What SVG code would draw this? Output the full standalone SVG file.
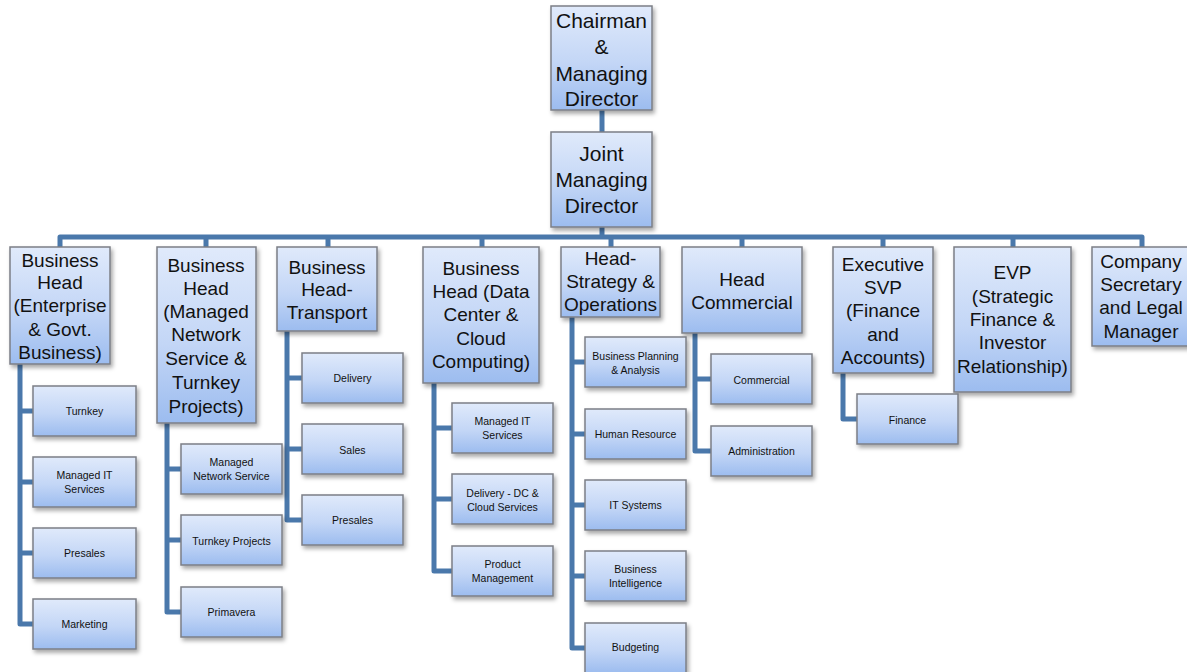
<svg xmlns="http://www.w3.org/2000/svg" width="1187" height="672" viewBox="0 0 1187 672">
<defs>
<linearGradient id="g" x1="0" y1="0" x2="0" y2="1">
<stop offset="0" stop-color="#e0eafb"/>
<stop offset="0.55" stop-color="#c3d6f6"/>
<stop offset="1" stop-color="#9cbcef"/>
</linearGradient>
<filter id="sh" x="-10%" y="-10%" width="130%" height="130%">
<feDropShadow dx="2" dy="3" stdDeviation="2" flood-color="#000" flood-opacity="0.35"/>
</filter>
</defs>
<style>
rect.b{fill:url(#g);stroke:#7c7f86;stroke-width:1.5;filter:url(#sh)}
text{font-family:"Liberation Sans",Arial,sans-serif;fill:#111;text-anchor:middle;dominant-baseline:central}
.t{font-size:19px}
.c{font-size:21px}
.s{font-size:10.5px}
.con path{fill:none;stroke:#4a78ab;stroke-width:5;stroke-linejoin:round}
</style>
<rect width="1187" height="672" fill="#fff"/>
<g class="con">
<path d="M602 110V132"/>
<path d="M602 227V237"/>
<path d="M60 247V237H1142V247"/>
<path d="M206 237V247M328 237V247M482 237V247M611 237V247M742 237V247M883 237V247M1013 237V247"/>
<path d="M20 364V624H33M20 411H33M20 482H33M20 553H33"/>
<path d="M167 423V612H181M167 469H181M167 540H181"/>
<path d="M287 331V520H302M287 378H302M287 449H302"/>
<path d="M434 383V571H452M434 428H452M434 499H452"/>
<path d="M572 317V648H585M572 362H585M572 434H585M572 505H585M572 576H585"/>
<path d="M695 333V451H711M695 379H711"/>
<path d="M843 373V419H857"/>
</g>
<g id="chairman"><rect class="b" x="551" y="6" width="101" height="104"/>
<text class="c" x="601.5" y="20">Chairman</text><text class="c" x="601.5" y="46">&amp;</text><text class="c" x="601.5" y="73">Managing</text><text class="c" x="601.5" y="98">Director</text></g>
<g id="jmd"><rect class="b" x="551" y="132" width="101" height="95"/>
<text class="c" x="601.5" y="153">Joint</text><text class="c" x="601.5" y="179">Managing</text><text class="c" x="601.5" y="205">Director</text></g>
<g id="bh-enterprise"><rect class="b" x="10" y="247" width="100" height="117"/>
<text class="t" x="60" y="260">Business</text><text class="t" x="60" y="282">Head</text><text class="t" x="60" y="305">(Enterprise</text><text class="t" x="60" y="329">&amp; Govt.</text><text class="t" x="60" y="352">Business)</text></g>
<g id="bh-network"><rect class="b" x="157" y="247" width="99" height="176"/>
<text class="t" x="206" y="265">Business</text><text class="t" x="206" y="288">Head</text><text class="t" x="206" y="311">(Managed</text><text class="t" x="206" y="334">Network</text><text class="t" x="206" y="358">Service &amp;</text><text class="t" x="206" y="382">Turnkey</text><text class="t" x="206" y="406">Projects)</text></g>
<g id="bh-transport"><rect class="b" x="277" y="247" width="100" height="84"/>
<text class="t" x="327" y="267">Business</text><text class="t" x="327" y="289">Head-</text><text class="t" x="327" y="312">Transport</text></g>
<g id="bh-datacenter"><rect class="b" x="423" y="247" width="116" height="136"/>
<text class="t" x="481" y="268">Business</text><text class="t" x="481" y="291">Head (Data</text><text class="t" x="481" y="314">Center &amp;</text><text class="t" x="481" y="338">Cloud</text><text class="t" x="481" y="361">Computing)</text></g>
<g id="head-strategy"><rect class="b" x="561" y="247" width="99" height="70"/>
<text class="t" x="610.5" y="258">Head-</text><text class="t" x="610.5" y="281">Strategy &amp;</text><text class="t" x="610.5" y="304">Operations</text></g>
<g id="head-commercial"><rect class="b" x="682" y="247" width="120" height="86"/>
<text class="t" x="742" y="279">Head</text><text class="t" x="742" y="302">Commercial</text></g>
<g id="exec-svp"><rect class="b" x="833" y="247" width="100" height="126"/>
<text class="t" x="883" y="264">Executive</text><text class="t" x="883" y="287">SVP</text><text class="t" x="883" y="310">(Finance</text><text class="t" x="883" y="334">and</text><text class="t" x="883" y="357">Accounts)</text></g>
<g id="evp"><rect class="b" x="954" y="247" width="117" height="145"/>
<text class="t" x="1012.5" y="272">EVP</text><text class="t" x="1012.5" y="296">(Strategic</text><text class="t" x="1012.5" y="319">Finance &amp;</text><text class="t" x="1012.5" y="342">Investor</text><text class="t" x="1012.5" y="366">Relationship)</text></g>
<g id="company-secretary"><rect class="b" x="1092" y="247" width="98" height="99"/>
<text class="t" x="1141" y="261">Company</text><text class="t" x="1141" y="284">Secretary</text><text class="t" x="1141" y="307">and Legal</text><text class="t" x="1141" y="331">Manager</text></g>
<g id="turnkey"><rect class="b" x="33" y="386" width="103" height="50"/><text class="s" x="84.5" y="411">Turnkey</text></g>
<g id="managed-it-1"><rect class="b" x="33" y="457" width="103" height="50"/><text class="s" x="84.5" y="475">Managed IT</text><text class="s" x="84.5" y="489">Services</text></g>
<g id="presales-1"><rect class="b" x="33" y="528" width="103" height="50"/><text class="s" x="84.5" y="553">Presales</text></g>
<g id="marketing"><rect class="b" x="33" y="599" width="103" height="50"/><text class="s" x="84.5" y="624">Marketing</text></g>
<g id="managed-network"><rect class="b" x="181" y="444" width="101" height="50"/><text class="s" x="231.5" y="462">Managed</text><text class="s" x="231.5" y="476">Network Service</text></g>
<g id="turnkey-projects"><rect class="b" x="181" y="515" width="101" height="50"/><text class="s" x="231.5" y="541">Turnkey Projects</text></g>
<g id="primavera"><rect class="b" x="181" y="587" width="101" height="50"/><text class="s" x="231.5" y="612">Primavera</text></g>
<g id="delivery"><rect class="b" x="302" y="353" width="101" height="50"/><text class="s" x="352.5" y="378">Delivery</text></g>
<g id="sales"><rect class="b" x="302" y="424" width="101" height="50"/><text class="s" x="352.5" y="450">Sales</text></g>
<g id="presales-2"><rect class="b" x="302" y="495" width="101" height="50"/><text class="s" x="352.5" y="520">Presales</text></g>
<g id="managed-it-2"><rect class="b" x="452" y="403" width="101" height="50"/><text class="s" x="502.5" y="421">Managed IT</text><text class="s" x="502.5" y="435">Services</text></g>
<g id="delivery-dc"><rect class="b" x="452" y="474" width="101" height="50"/><text class="s" x="502.5" y="493">Delivery - DC &amp;</text><text class="s" x="502.5" y="507">Cloud Services</text></g>
<g id="product-management"><rect class="b" x="452" y="546" width="101" height="50"/><text class="s" x="502.5" y="564">Product</text><text class="s" x="502.5" y="578">Management</text></g>
<g id="business-planning"><rect class="b" x="585" y="337" width="101" height="50"/><text class="s" x="635.5" y="356">Business Planning</text><text class="s" x="635.5" y="370">&amp; Analysis</text></g>
<g id="human-resource"><rect class="b" x="585" y="409" width="101" height="50"/><text class="s" x="635.5" y="434">Human Resource</text></g>
<g id="it-systems"><rect class="b" x="585" y="480" width="101" height="50"/><text class="s" x="635.5" y="505">IT Systems</text></g>
<g id="business-intelligence"><rect class="b" x="585" y="551" width="101" height="50"/><text class="s" x="635.5" y="569">Business</text><text class="s" x="635.5" y="583">Intelligence</text></g>
<g id="budgeting"><rect class="b" x="585" y="623" width="101" height="50"/><text class="s" x="635.5" y="647">Budgeting</text></g>
<g id="commercial"><rect class="b" x="711" y="354" width="101" height="50"/><text class="s" x="761.5" y="380">Commercial</text></g>
<g id="administration"><rect class="b" x="711" y="426" width="101" height="50"/><text class="s" x="761.5" y="451">Administration</text></g>
<g id="finance"><rect class="b" x="857" y="394" width="101" height="50"/><text class="s" x="907.5" y="420">Finance</text></g>
</svg>
